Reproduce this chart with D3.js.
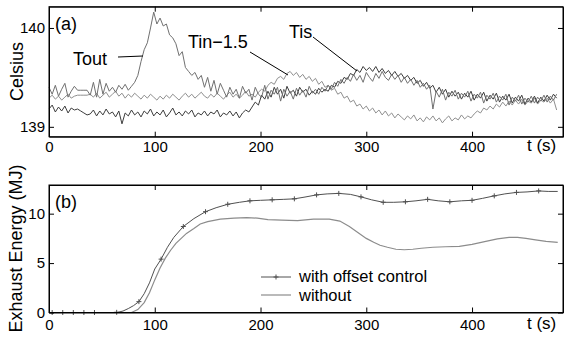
<!DOCTYPE html>
<html>
<head>
<meta charset="utf-8">
<script src="https://cdn.jsdelivr.net/npm/d3@7"></script>
<style>
  body { margin: 0; background: #fff; }
  svg { display: block; font-family: "Liberation Sans", Arial, sans-serif; }
  .axis path, .axis line { stroke: #000; }
  .axis text { font-size: 15px; fill: #000; }
</style>
</head>
<body>
<svg id="chart" width="564" height="338"></svg>
<script>
// ---- panel (a): temperatures, sampled every 3 s from 0 to 480 s
const tempTime = d3.range(0, 481, 3);

const tout = [
  139.40,139.33,139.42,139.31,139.38,139.44,139.30,139.36,139.41,139.37,139.37,139.37,139.37,139.32,139.45,139.30,
  139.48,139.33,139.44,139.36,139.40,139.35,139.42,139.38,139.43,139.37,139.41,139.45,139.52,139.66,139.78,139.85,
  140.00,140.16,140.04,140.10,140.02,140.04,139.93,139.90,139.84,139.72,139.76,139.60,139.56,139.52,139.55,139.48,
  139.52,139.40,139.50,139.36,139.47,139.33,139.44,139.37,139.30,139.40,139.33,139.38,139.29,139.41,139.34,139.38,
  139.27,139.40,139.33,139.30,139.42,139.28,139.37,139.33,139.40,139.26,139.38,139.31,139.36,139.28,139.39,139.32,
  139.37,139.30,139.41,139.34,139.38,139.33,139.40,139.36,139.42,139.38,139.45,139.41,139.48,139.44,139.50,139.46,
  139.53,139.47,139.52,139.45,139.55,139.50,139.46,139.54,139.49,139.56,139.50,139.47,139.53,139.48,139.52,139.45,
  139.50,139.44,139.48,139.42,139.47,139.40,139.44,139.38,139.42,139.18,139.36,139.30,139.38,139.27,139.35,139.31,
  139.37,139.28,139.34,139.30,139.36,139.26,139.33,139.29,139.35,139.24,139.32,139.28,139.34,139.25,139.31,139.27,
  139.33,139.22,139.30,139.26,139.32,139.23,139.29,139.25,139.31,139.24,139.30,139.26,139.32,139.25,139.31,139.27,
  139.33
];

const tinMinus = [
  139.29,139.32,139.28,139.31,139.27,139.30,139.33,139.29,139.31,139.32,139.32,139.32,139.32,139.33,139.30,139.34,
  139.29,139.32,139.35,139.30,139.33,139.36,139.31,139.34,139.29,139.33,139.30,139.34,139.31,139.28,139.32,139.29,
  139.33,139.30,139.27,139.31,139.28,139.32,139.29,139.33,139.30,139.27,139.31,139.34,139.30,139.33,139.29,139.32,
  139.35,139.31,139.29,139.33,139.30,139.34,139.31,139.28,139.32,139.35,139.30,139.33,139.29,139.32,139.36,139.31,
  139.33,139.30,139.35,139.38,139.36,139.42,139.45,139.43,139.49,139.51,139.48,139.54,139.56,139.52,139.55,139.50,
  139.53,139.48,139.51,139.46,139.49,139.43,139.46,139.40,139.42,139.37,139.39,139.33,139.35,139.29,139.31,139.25,
  139.27,139.21,139.23,139.18,139.21,139.16,139.19,139.14,139.17,139.12,139.16,139.11,139.14,139.09,139.13,139.10,
  139.07,139.11,139.08,139.12,139.06,139.09,139.05,139.10,139.07,139.11,139.06,139.09,139.04,139.08,139.11,139.06,
  139.09,139.07,139.12,139.08,139.11,139.09,139.13,139.16,139.14,139.19,139.17,139.21,139.18,139.23,139.20,139.25,
  139.21,139.26,139.22,139.27,139.23,139.28,139.22,139.26,139.24,139.29,139.23,139.27,139.25,139.29,139.24,139.28,
  139.17
];

const tis = [
  139.18,139.22,139.15,139.20,139.16,139.21,139.14,139.19,139.17,139.18,139.16,139.14,139.12,139.13,139.17,139.11,
  139.16,139.12,139.18,139.13,139.15,139.10,139.16,139.03,139.14,139.11,139.17,139.12,139.15,139.10,139.16,139.13,
  139.18,139.11,139.15,139.12,139.17,139.10,139.14,139.19,139.12,139.15,139.11,139.16,139.13,139.17,139.10,139.14,
  139.12,139.16,139.11,139.15,139.13,139.17,139.10,139.14,139.12,139.16,139.11,139.15,139.09,139.14,139.17,139.15,
  139.20,139.25,139.22,139.32,139.28,139.36,139.30,139.40,139.33,139.38,139.29,139.41,139.34,139.37,139.31,139.40,
  139.35,139.38,139.32,139.36,139.33,139.39,139.35,139.38,139.36,139.42,139.40,139.46,139.44,139.50,139.48,139.54,
  139.52,139.58,139.55,139.61,139.57,139.60,139.56,139.61,139.55,139.59,139.54,139.57,139.52,139.56,139.51,139.54,
  139.49,139.52,139.47,139.50,139.44,139.47,139.41,139.45,139.39,139.42,139.35,139.40,139.33,139.38,139.30,139.36,
  139.31,139.35,139.28,139.34,139.30,139.36,139.27,139.33,139.29,139.35,139.26,139.32,139.28,139.34,139.25,139.31,
  139.27,139.33,139.24,139.30,139.26,139.32,139.23,139.29,139.25,139.31,139.24,139.30,139.26,139.32,139.27,139.33,
  139.29
];

// ---- panel (b): exhaust energy (MJ)
const offsetTime = [0,10,20,30,40,50,60,65,70,75,80,85,90,95,100,106,112,118,127,137,148,158,169,180,190,200,211,
  222,232,243,253,263,274,285,295,305,316,326,337,347,358,368,379,390,400,410,421,431,442,452,463,472,481];
const offsetEnergy = [0,0,0,0,0,0,0,0.02,0.15,0.4,0.7,1.1,1.9,3.0,4.4,5.4,6.6,7.6,8.7,9.5,10.2,10.6,10.95,11.15,
  11.3,11.35,11.4,11.45,11.5,11.7,11.9,12.0,12.05,11.95,11.7,11.4,11.15,11.15,11.2,11.3,11.45,11.3,11.2,11.3,11.35,
  11.55,11.8,12.0,12.15,12.2,12.3,12.25,12.25];
const markerTime = [3,13,23,33,43,64,85,106,127,148,169,190,211,232,253,274,295,316,337,358,379,400,421,442,463];

const plainTime = [0,60,70,78,84,90,95,100,105,110,115,120,125,130,137,143,150,162,175,187,197,207,220,235,250,265,
  275,284,292,300,307,313,320,328,336,344,352,363,375,388,400,413,424,435,443,451,460,470,481];
const plainEnergy = [0,0,0,0,0.3,1.0,2.0,3.3,4.5,5.5,6.3,7.0,7.5,8.0,8.5,8.95,9.2,9.45,9.55,9.6,9.55,9.4,9.35,9.3,
  9.45,9.45,9.25,8.7,8.1,7.5,7.1,6.8,6.6,6.4,6.35,6.4,6.5,6.6,6.65,6.7,6.9,7.2,7.45,7.6,7.6,7.5,7.35,7.2,7.1];

const xTicks = [0, 100, 200, 300, 400];
const tempTicks = [139, 140];
const energyTicks = [0, 5, 10];

const svg = d3.select("#chart");

const left = 49, right = 563;
const topA = 6.7, bottomA = 136.7;
const topB = 185, bottomB = 312.5;

const x = d3.scaleLinear().domain([0, 486]).range([left, right]);
const yA = d3.scaleLinear().domain([138.9, 140.215]).range([bottomA, topA]);
const yB = d3.scaleLinear().domain([0, 12.9]).range([bottomB, topB]);

function frame(y, top, bottom, yTicks, pad) {
  const g = svg.append("g");
  g.append("g").attr("class", "axis")
    .attr("transform", `translate(0,${bottom})`)
    .call(d3.axisBottom(x).tickValues(xTicks).tickSizeInner(-5).tickSizeOuter(0).tickPadding(pad));
  g.append("g").attr("class", "axis")
    .attr("transform", `translate(0,${top})`)
    .call(d3.axisTop(x).tickValues(xTicks).tickSizeInner(-5).tickSizeOuter(0).tickFormat(""));
  g.append("g").attr("class", "axis")
    .attr("transform", `translate(${left},0)`)
    .call(d3.axisLeft(y).tickValues(yTicks).tickFormat(d3.format("d"))
      .tickSizeInner(-5).tickSizeOuter(0).tickPadding(4));
  g.append("g").attr("class", "axis")
    .attr("transform", `translate(${right},0)`)
    .call(d3.axisRight(y).tickValues(yTicks).tickSizeInner(-5).tickSizeOuter(0).tickFormat(""));
  g.append("rect")
    .attr("x", left).attr("y", top)
    .attr("width", right - left).attr("height", bottom - top)
    .attr("fill", "none").attr("stroke", "#000");
}

// panel (a) lines
const lineA = d3.line().x((d, i) => x(tempTime[i])).y(d => yA(d));
[[tinMinus, "#8f8f8f"], [tis, "#3c3c3c"], [tout, "#707070"]].forEach(([s, c]) => {
  svg.append("path").datum(s)
    .attr("d", lineA).attr("fill", "none").attr("stroke", c).attr("stroke-width", 1);
});

// panel (b) lines
const lineB = (tt) => d3.line().x((d, i) => x(tt[i])).y(d => yB(d));
svg.append("path").datum(plainEnergy)
  .attr("d", lineB(plainTime)).attr("fill", "none").attr("stroke", "#8c8c8c").attr("stroke-width", 1.2);
svg.append("path").datum(offsetEnergy)
  .attr("d", lineB(offsetTime)).attr("fill", "none").attr("stroke", "#505050").attr("stroke-width", 1);

// '+' markers sit on the with-offset curve
const offsetAt = d3.scaleLinear().domain(offsetTime).range(offsetEnergy);
svg.append("g").selectAll("path")
  .data(markerTime)
  .join("path")
  .attr("d", d => `M${x(d) - 2.5},${yB(offsetAt(d))}h5M${x(d)},${yB(offsetAt(d)) - 2.5}v5`)
  .attr("stroke", "#505050").attr("stroke-width", 1);

frame(yA, topA, bottomA, tempTicks, 5);
frame(yB, topB, bottomB, energyTicks, 7);

// axis titles
svg.append("text").attr("transform", "translate(23,71.5) rotate(-90)")
  .attr("text-anchor", "middle").attr("font-size", 18).text("Celsius");
svg.append("text").attr("transform", "translate(21.5,248.5) rotate(-90)")
  .attr("text-anchor", "middle").attr("font-size", 18).text("Exhaust Energy (MJ)");
svg.append("text").attr("x", 527).attr("y", 150.5).attr("font-size", 17).text("t (s)");
svg.append("text").attr("x", 527).attr("y", 329).attr("font-size", 17).text("t (s)");

// panel tags
svg.append("text").attr("x", 55).attr("y", 29.5).attr("font-size", 18).text("(a)");
svg.append("text").attr("x", 55).attr("y", 208).attr("font-size", 18).text("(b)");

// series annotations with leader lines
const notes = [
  { label: "Tout", tx: 73, ty: 65, x1: 118, y1: 57, x2: 143, y2: 56 },
  { label: "Tin\u22121.5", tx: 188, ty: 48, x1: 250, y1: 52, x2: 288, y2: 75 },
  { label: "Tis", tx: 289, ty: 38, x1: 313, y1: 37, x2: 357, y2: 71 }
];
notes.forEach(n => {
  svg.append("text").attr("x", n.tx).attr("y", n.ty).attr("font-size", 18).text(n.label);
  svg.append("line").attr("x1", n.x1).attr("y1", n.y1).attr("x2", n.x2).attr("y2", n.y2)
    .attr("stroke", "#000").attr("stroke-width", 1);
});

// legend
const legend = svg.append("g");
legend.append("line").attr("x1", 261).attr("x2", 291).attr("y1", 277).attr("y2", 277)
  .attr("stroke", "#505050");
legend.append("path").attr("d", "M273.5,277h5M276,274.5v5").attr("stroke", "#505050");
legend.append("text").attr("x", 299).attr("y", 282).attr("font-size", 16.5).text("with offset control");
legend.append("line").attr("x1", 261).attr("x2", 291).attr("y1", 295).attr("y2", 295)
  .attr("stroke", "#8c8c8c").attr("stroke-width", 1.2);
legend.append("text").attr("x", 299).attr("y", 300.5).attr("font-size", 16.5).text("without");
</script>
</body>
</html>
